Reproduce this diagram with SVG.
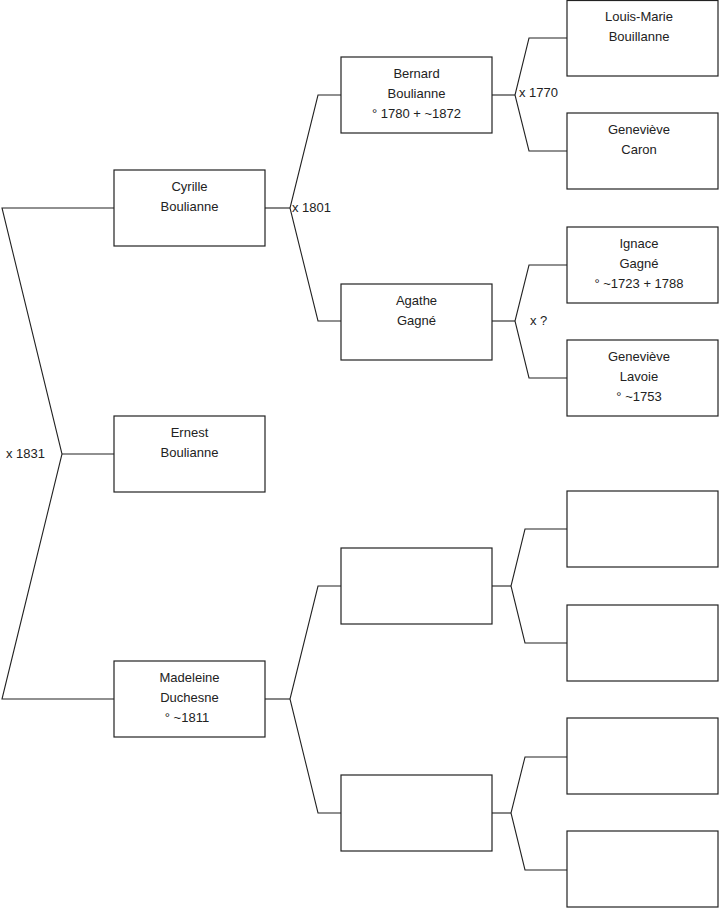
<svg xmlns="http://www.w3.org/2000/svg" width="719" height="908" viewBox="0 0 719 908">
<style>
.box{fill:#fff;stroke:#222;stroke-width:1.2}
.ln{fill:none;stroke:#222;stroke-width:1.1}
text{font-family:"Liberation Sans",Arial,sans-serif;font-size:13px;fill:#222}
.c{text-anchor:middle}
</style>
<rect width="719" height="908" fill="#fff"/>
<g id="connectors">
<polyline class="ln" points="114,208 2,208 62,454 2,699 114,699"/>
<line class="ln" x1="62" y1="454" x2="114" y2="454"/>
<polyline class="ln" points="341,95 318,95 290,208 318,321 341,321"/>
<line class="ln" x1="265" y1="208" x2="290" y2="208"/>
<polyline class="ln" points="567,38 529,38 515,95 529,151 567,151"/>
<line class="ln" x1="492" y1="95" x2="515" y2="95"/>
<polyline class="ln" points="567,265 529,265 515,321 529,378 567,378"/>
<line class="ln" x1="492" y1="321" x2="515" y2="321"/>
<polyline class="ln" points="341,586 318,586 290,699 318,813 341,813"/>
<line class="ln" x1="265" y1="699" x2="290" y2="699"/>
<polyline class="ln" points="567,529 525,529 511,586 525,643 567,643"/>
<line class="ln" x1="492" y1="586" x2="511" y2="586"/>
<polyline class="ln" points="567,757 525,757 511,813 525,870 567,870"/>
<line class="ln" x1="492" y1="813" x2="511" y2="813"/>
<text x="6" y="458">x 1831</text>
<text x="292" y="212">x 1801</text>
<text x="519" y="97">x 1770</text>
<text x="530" y="325">x ?</text>
</g>
<g id="cyrille"><rect class="box" x="114" y="170" width="151" height="76"/><text class="c" x="189.5" y="191">Cyrille</text><text class="c" x="189.5" y="211">Boulianne</text></g>
<g id="ernest"><rect class="box" x="114" y="416" width="151" height="76"/><text class="c" x="189.5" y="437">Ernest</text><text class="c" x="189.5" y="457">Boulianne</text></g>
<g id="madeleine"><rect class="box" x="114" y="661" width="151" height="76"/><text class="c" x="189.5" y="682">Madeleine</text><text class="c" x="189.5" y="702">Duchesne</text><text class="c" x="187" y="722">° ~1811</text></g>
<g id="bernard"><rect class="box" x="341" y="57" width="151" height="76"/><text class="c" x="416.5" y="78">Bernard</text><text class="c" x="416.5" y="98">Boulianne</text><text class="c" x="416.5" y="118">° 1780 + ~1872</text></g>
<g id="agathe"><rect class="box" x="341" y="284" width="151" height="76"/><text class="c" x="416.5" y="305">Agathe</text><text class="c" x="416.5" y="325">Gagné</text></g>
<g id="empty1"><rect class="box" x="341" y="548" width="151" height="76"/></g>
<g id="empty2"><rect class="box" x="341" y="775" width="151" height="76"/></g>
<g id="louismarie"><rect class="box" x="567" y="0.5" width="151" height="75.5"/><text class="c" x="639" y="21">Louis-Marie</text><text class="c" x="639" y="41">Bouillanne</text></g>
<g id="genevieve-caron"><rect class="box" x="567" y="113" width="151" height="76"/><text class="c" x="639" y="134">Geneviève</text><text class="c" x="639" y="154">Caron</text></g>
<g id="ignace"><rect class="box" x="567" y="227" width="151" height="76"/><text class="c" x="639" y="248">Ignace</text><text class="c" x="639" y="268">Gagné</text><text class="c" x="639" y="288">° ~1723 + 1788</text></g>
<g id="genevieve-lavoie"><rect class="box" x="567" y="340" width="151" height="76"/><text class="c" x="639" y="361">Geneviève</text><text class="c" x="639" y="381">Lavoie</text><text class="c" x="639" y="401">° ~1753</text></g>
<g id="empty3"><rect class="box" x="567" y="491" width="151" height="76"/></g>
<g id="empty4"><rect class="box" x="567" y="605" width="151" height="76"/></g>
<g id="empty5"><rect class="box" x="567" y="718" width="151" height="76"/></g>
<g id="empty6"><rect class="box" x="567" y="831" width="151" height="76"/></g>
</svg>
